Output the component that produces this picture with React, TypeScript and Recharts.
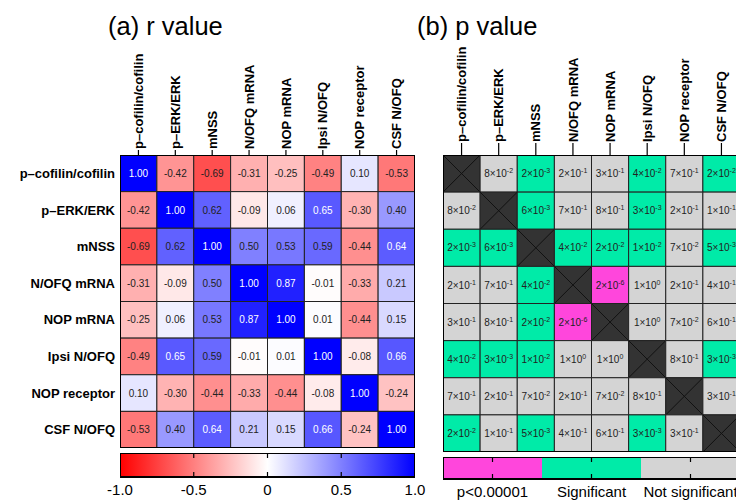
import React from 'react';
import { ScatterChart, Scatter, BarChart, Bar, XAxis, YAxis } from 'recharts';

// variables, same order for rows and columns
const variables = [
  'p–cofilin/cofilin',
  'p–ERK/ERK',
  'mNSS',
  'N/OFQ mRNA',
  'NOP mRNA',
  'Ipsi N/OFQ',
  'NOP receptor',
  'CSF N/OFQ',
];

// Pearson r, one row per variable
const rCofilin = [1.0, -0.42, -0.69, -0.31, -0.25, -0.49, 0.1, -0.53];
const rErk = [-0.42, 1.0, 0.62, -0.09, 0.06, 0.65, -0.3, 0.4];
const rMnss = [-0.69, 0.62, 1.0, 0.5, 0.53, 0.59, -0.44, 0.64];
const rNofqMrna = [-0.31, -0.09, 0.5, 1.0, 0.87, -0.01, -0.33, 0.21];
const rNopMrna = [-0.25, 0.06, 0.53, 0.87, 1.0, 0.01, -0.44, 0.15];
const rIpsi = [-0.49, 0.65, 0.59, -0.01, 0.01, 1.0, -0.08, 0.66];
const rNopRec = [0.1, -0.3, -0.44, -0.33, -0.44, -0.08, 1.0, -0.24];
const rCsf = [-0.53, 0.4, 0.64, 0.21, 0.15, 0.66, -0.24, 1.0];

// p values (null on the diagonal)
const pCofilin = [null, 8e-2, 2e-3, 2e-1, 3e-1, 4e-2, 7e-1, 2e-2];
const pErk = [8e-2, null, 6e-3, 7e-1, 8e-1, 3e-3, 2e-1, 1e-1];
const pMnss = [2e-3, 6e-3, null, 4e-2, 2e-2, 1e-2, 7e-2, 5e-3];
const pNofqMrna = [2e-1, 7e-1, 4e-2, null, 2e-6, 1e0, 2e-1, 4e-1];
const pNopMrna = [3e-1, 8e-1, 2e-2, 2e-6, null, 1e0, 7e-2, 6e-1];
const pIpsi = [4e-2, 3e-3, 1e-2, 1e0, 1e0, null, 8e-1, 3e-3];
const pNopRec = [7e-1, 2e-1, 7e-2, 2e-1, 7e-2, 8e-1, null, 3e-1];
const pCsf = [2e-2, 1e-1, 5e-3, 4e-1, 6e-1, 3e-3, 3e-1, null];

const rTicks = [-1, -0.5, 0, 0.5, 1];
const rRange = [-1, 1];
const pCategories = ['p<0.00001', 'Significant', 'Not significant'];
const pCategoryColors = ['#ff46dc', '#00eba8', '#d4d4d4'];

const rRows = [rCofilin, rErk, rMnss, rNofqMrna, rNopMrna, rIpsi, rNopRec, rCsf];
const pRows = [pCofilin, pErk, pMnss, pNofqMrna, pNopMrna, pIpsi, pNopRec, pCsf];

const FONT = '"Liberation Sans", Arial, sans-serif';
const N = variables.length;
const centers = variables.map((_, i) => i + 0.5);

// panel geometry
const A = { left: 120, top: 155, size: 295, gridH: 293, barTop: 453, barBottom: 477 };
const B = { left: 443, top: 155, size: 297, gridH: 297, barTop: 457, barBottom: 479 };

const rCells = rRows.flatMap((row, ri) => row.map((r, ci) => ({ col: ci + 0.5, row: ri + 0.5, r })));
const pCells = pRows.flatMap((row, ri) => row.map((p, ci) => ({ col: ci + 0.5, row: ri + 0.5, p })));
const frame = [{ col: N / 2, row: N / 2 }];
const rBar = [{ name: 'r', range: rRange }];
const pBar = [{ name: 'p', range: [0, pCategories.length] }];

const rColor = (r: number) => {
  if (r < 0) {
    const v = Math.round(255 * (1 + r));
    return `rgb(255,${v},${v})`;
  }
  const v = Math.round(255 * (1 - r));
  return `rgb(${v},${v},255)`;
};

const pCategory = (p: number) => (p < 0.00001 ? 0 : p < 0.05 ? 1 : 2);

const makeRCell = (w: number, h: number) => (props: any) => {
  const { cx, cy, payload } = props;
  return (
    <g>
      <rect x={cx - w / 2} y={cy - h / 2} width={w} height={h} fill={rColor(payload.r)} stroke="#222" strokeWidth={1} />
      <text x={cx} y={cy} dy="0.36em" textAnchor="middle" fontSize={10} fontFamily={FONT}
        fill={payload.r > 0.63 ? '#fff' : '#222'}>
        {payload.r.toFixed(2)}
      </text>
    </g>
  );
};

const makePCell = (w: number, h: number) => (props: any) => {
  const { cx, cy, payload } = props;
  const x0 = cx - w / 2, y0 = cy - h / 2;
  if (payload.p == null) {
    return (
      <g>
        <rect x={x0} y={y0} width={w} height={h} fill="#333" stroke="#222" strokeWidth={1} />
        <line x1={x0} y1={y0} x2={x0 + w} y2={y0 + h} stroke="#111" strokeWidth={1} />
        <line x1={x0 + w} y1={y0} x2={x0} y2={y0 + h} stroke="#111" strokeWidth={1} />
      </g>
    );
  }
  const [mant, exp] = (payload.p as number).toExponential(0).split('e');
  return (
    <g>
      <rect x={x0} y={y0} width={w} height={h} fill={pCategoryColors[pCategory(payload.p)]} stroke="#222" strokeWidth={1} />
      <text x={cx} y={cy} dy="0.36em" textAnchor="middle" fontSize={10} fontFamily={FONT} fill="#222">
        <tspan>{mant}×10</tspan>
        <tspan fontSize={7} dy={-4}>{String(Number(exp))}</tspan>
      </text>
    </g>
  );
};

const makeFrame = (w: number, h: number) => (props: any) => {
  const { cx, cy } = props;
  return <rect x={cx - w / 2} y={cy - h / 2} width={w} height={h} fill="none" stroke="#000" strokeWidth={2} />;
};

const makeTopTick = (len: number) => (props: any) => {
  const { x, y, payload } = props;
  const label = variables[Math.round(payload.value - 0.5)];
  const ty = y - len - 1;
  return (
    <g>
      <line x1={x} x2={x} y1={y} y2={y - len} stroke="#000" strokeWidth={1.2} />
      <text x={x} y={ty} dy="0.36em" transform={`rotate(-90, ${x}, ${ty})`} textAnchor="start"
        fontSize={13} fontWeight="bold" fontFamily={FONT} fill="#000">
        {label}
      </text>
    </g>
  );
};

const RowTick = (props: any) => {
  const { x, y, payload } = props;
  return (
    <text x={x} y={y} dy="0.36em" textAnchor="end" fontSize={13} fontWeight="bold" fontFamily={FONT} fill="#000">
      {variables[Math.round(payload.value - 0.5)]}
    </text>
  );
};

const makeBarTick = (barH: number, format: (v: number) => string, inner: (v: number) => boolean) => (props: any) => {
  const { x, y, payload } = props;
  return (
    <g>
      {inner(payload.value) && (
        <>
          <line x1={x} x2={x} y1={y - barH + 1} y2={y - barH + 5} stroke="#000" strokeWidth={1.2} />
          <line x1={x} x2={x} y1={y - 1} y2={y - 5} stroke="#000" strokeWidth={1.2} />
        </>
      )}
      <text x={x} y={y + 18} textAnchor="middle" fontSize={15} fontFamily={FONT} fill="#000">
        {format(payload.value)}
      </text>
    </g>
  );
};

const RColorBarShape = (props: any) => {
  const { x, y, width, height } = props;
  return <rect x={x} y={y} width={width} height={height} fill="url(#rgrad)" stroke="#000" strokeWidth={2} />;
};

const PColorBarShape = (props: any) => {
  const { x, y, width, height } = props;
  const seg = width / pCategories.length;
  return (
    <g>
      {pCategoryColors.map((c, i) => (
        <rect key={i} x={x + i * seg} y={y} width={seg} height={height} fill={c} />
      ))}
      <rect x={x} y={y} width={width} height={height} fill="none" stroke="#000" strokeWidth={2} />
    </g>
  );
};

const RPanel = () => {
  const unit = A.gridH / N;
  const cellW = A.size / N;
  const barRight = 25;
  return (
    <>
      <div style={{ position: 'absolute', left: 0, top: 0 }}>
        <ScatterChart width={A.left + A.size + 5} height={A.top + A.gridH + 5} margin={{ top: 0, right: 5, bottom: 5, left: 0 }}>
          <XAxis xAxisId="grid" dataKey="col" type="number" orientation="top" domain={[0, N]} ticks={centers}
            interval={0} height={A.top} axisLine={false} tickLine={false} tickSize={0} tickMargin={0}
            tick={makeTopTick(5)} allowDataOverflow />
          <YAxis yAxisId="grid" dataKey="row" type="number" domain={[0, N]} reversed ticks={centers} interval={0}
            width={A.left} axisLine={false} tickLine={false} tickSize={0} tickMargin={5} tick={RowTick} allowDataOverflow />
          <Scatter data={rCells} xAxisId="grid" yAxisId="grid" isAnimationActive={false} shape={makeRCell(cellW, unit)} />
          <Scatter data={frame} xAxisId="grid" yAxisId="grid" isAnimationActive={false} shape={makeFrame(A.size, A.gridH)} />
        </ScatterChart>
      </div>
      <div style={{ position: 'absolute', left: 0, top: A.barTop }}>
        <BarChart layout="vertical" data={rBar} width={A.left + A.size + barRight} height={502 - A.barTop}
          margin={{ top: 0, right: barRight, bottom: 0, left: A.left }} barCategoryGap={0}>
          <XAxis type="number" domain={rRange} ticks={rTicks} interval={0} height={502 - A.barBottom}
            axisLine={false} tickLine={false} tickSize={0} tickMargin={0} allowDataOverflow
            tick={makeBarTick(A.barBottom - A.barTop, (v) => (v === 0 ? '0' : v.toFixed(1)), (v) => Math.abs(v) < 1)} />
          <YAxis type="category" dataKey="name" hide />
          <Bar dataKey="range" isAnimationActive={false} shape={RColorBarShape} />
        </BarChart>
      </div>
    </>
  );
};

const PPanel = () => {
  const unit = B.gridH / N;
  const cellW = B.size / N;
  const ml = 10;
  return (
    <>
      <div style={{ position: 'absolute', left: B.left - ml, top: 0 }}>
        <ScatterChart width={ml + B.size + 5} height={B.top + B.gridH + 5} margin={{ top: 0, right: 5, bottom: 5, left: ml }}>
          <XAxis xAxisId="grid" dataKey="col" type="number" orientation="top" domain={[0, N]} ticks={centers}
            interval={0} height={B.top} axisLine={false} tickLine={false} tickSize={0} tickMargin={0}
            tick={makeTopTick(12)} allowDataOverflow />
          <YAxis yAxisId="grid" dataKey="row" type="number" domain={[0, N]} reversed hide allowDataOverflow />
          <Scatter data={pCells} xAxisId="grid" yAxisId="grid" isAnimationActive={false} shape={makePCell(cellW, unit)} />
          <Scatter data={frame} xAxisId="grid" yAxisId="grid" isAnimationActive={false} shape={makeFrame(B.size, B.gridH)} />
        </ScatterChart>
      </div>
      <div style={{ position: 'absolute', left: B.left - ml, top: B.barTop }}>
        <BarChart layout="vertical" data={pBar} width={ml + B.size + 5} height={502 - B.barTop}
          margin={{ top: 0, right: 5, bottom: 0, left: ml }} barCategoryGap={0}>
          <XAxis type="number" domain={[0, pCategories.length]} ticks={pCategories.map((_, i) => i + 0.5)} interval={0}
            height={502 - B.barBottom} axisLine={false} tickLine={false} tickSize={0} tickMargin={0} allowDataOverflow
            tick={makeBarTick(B.barBottom - B.barTop, (v) => pCategories[Math.round(v - 0.5)], () => true)} />
          <YAxis type="category" dataKey="name" hide />
          <Bar dataKey="range" isAnimationActive={false} shape={PColorBarShape} />
        </BarChart>
      </div>
    </>
  );
};

export default function App() {
  return (
    <div style={{ position: 'absolute', left: 0, top: 0, width: 736, height: 502, overflow: 'hidden', background: '#fff', fontFamily: FONT }}>
      <svg width={736} height={50} style={{ position: 'absolute', left: 0, top: 0, pointerEvents: 'none' }}>
        <defs>
          <linearGradient id="rgrad" x1="0" y1="0" x2="1" y2="0">
            <stop offset="0%" stopColor={rColor(-1)} />
            <stop offset="50%" stopColor={rColor(0)} />
            <stop offset="100%" stopColor={rColor(1)} />
          </linearGradient>
        </defs>
        <text x={108} y={35} fontSize={25.5} fontFamily={FONT} fill="#000">(a) r value</text>
        <text x={417} y={35} fontSize={25.5} fontFamily={FONT} fill="#000">(b) p value</text>
      </svg>
      <RPanel />
      <PPanel />
    </div>
  );
}
